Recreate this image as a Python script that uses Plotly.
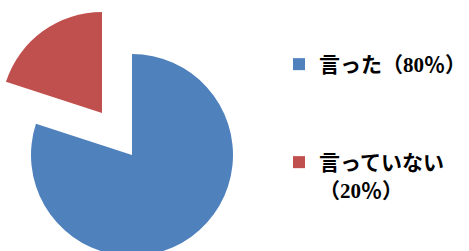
import plotly.graph_objects as go

categories = ["言った", "言っていない"]
legend_texts = ["言った（80％）", "言っていない<br>（20％）"]
values = [80, 20]
colors = ["#4F81BD", "#C0504D"]

W, H = 469, 257

def dom(cx, cy, r):
    return dict(x=[(cx - r) / W, (cx + r) / W], y=[(H - cy - r) / H, (H - cy + r) / H])

font = dict(family="Liberation Serif, Noto Sans CJK JP", size=21, color="#000000", weight="bold")

fig = go.Figure()
# main (un-pulled) slice
fig.add_trace(go.Pie(
    labels=[legend_texts[0], " "], values=[values[0], values[1]],
    marker=dict(colors=[colors[0], "rgba(0,0,0,0)"], line=dict(width=0)),
    sort=False, direction="clockwise", rotation=0, textinfo="none", hoverinfo="skip",
    domain=dom(132, 155, 101), legend="legend",
))
# exploded slice
fig.add_trace(go.Pie(
    labels=["  ", legend_texts[1]], values=[values[0], values[1]],
    marker=dict(colors=["rgba(0,0,0,0)", colors[1]], line=dict(width=0)),
    sort=False, direction="clockwise", rotation=0, textinfo="none", hoverinfo="skip",
    domain=dom(102, 113, 101), legend="legend2",
))

fig.update_layout(
    width=W, height=H, margin=dict(l=0, r=0, t=0, b=0, autoexpand=False),
    paper_bgcolor="white", plot_bgcolor="white",
    legend=dict(x=279 / W, y=1 - 44 / H, xanchor="left", yanchor="top", font=font,
                bgcolor="rgba(0,0,0,0)", valign="top"),
    legend2=dict(x=279 / W, y=1 - 142 / H, xanchor="left", yanchor="top", font=font,
                 bgcolor="rgba(0,0,0,0)", valign="top", traceorder="reversed"),
)

fig.write_html(
    "out.html",
    config={"displayModeBar": False},
    post_script="document.body.style.margin='0';document.body.style.overflow='hidden';"
                "document.documentElement.style.overflow='hidden';",
)
